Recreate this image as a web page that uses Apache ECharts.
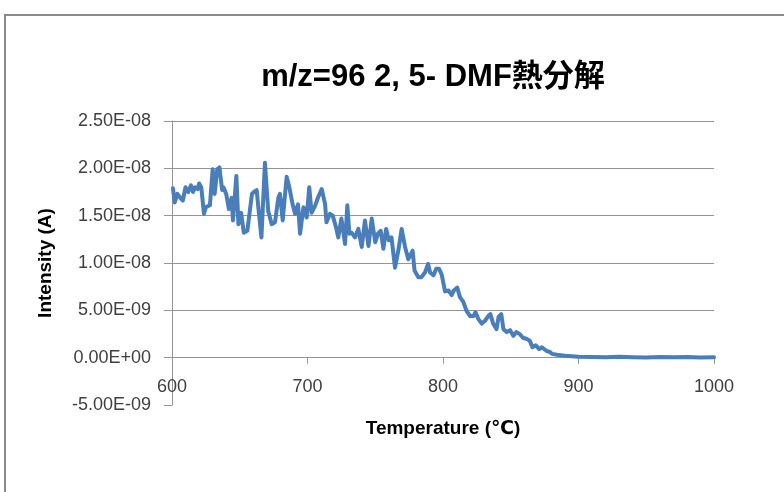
<!DOCTYPE html>
<html>
<head>
<meta charset="utf-8">
<script src="https://cdn.jsdelivr.net/npm/echarts@6/dist/echarts.min.js"></script>
<style>
  html, body { margin: 0; padding: 0; background: #fff; }
  #chart { width: 784px; height: 492px; }
</style>
</head>
<body>
<div id="chart"></div>
<script>
// Thermal decomposition of 2,5-DMF, ion current at m/z = 96
const titleText = 'm/z=96 2, 5- DMF熱分解';
const xAxisName = 'Temperature (℃)';
const yAxisName = 'Intensity (A)';

// Temperature (°C)
const temperature = [
  600.7, 602, 604, 606, 608, 610, 612, 614, 615.5, 617, 619, 620, 621.6, 623.6, 625, 628,
  630, 631.5, 633.4, 635, 637, 638, 640, 642, 644, 645, 647.5, 649, 651, 653, 655.6,
  657, 659, 660.5, 662.5, 663.7, 666, 668.6, 671, 673.6, 676, 678.5, 679.7, 681.7, 684.6,
  686.6, 689, 690.8, 693, 694.5, 697, 699.4, 701.3, 703, 705.5, 708, 710.5, 713, 714,
  716.6, 718.6, 721, 722.7, 725, 727.7, 729.4, 730.9, 732.5, 735, 737.5, 740, 742.4, 745,
  747.4, 750, 752, 754, 756, 758, 760, 762, 764.6, 767, 769.5, 772, 774.4, 777.6, 779,
  781.8, 784, 786.7, 789, 790.5, 793, 795, 797, 799, 801.5, 804, 806.4, 808, 810.5, 812.5,
  815, 817.5, 820, 822.5, 824, 826, 828.6, 831, 833.4, 835, 837, 839.5, 841, 843, 844.6,
  847, 849.5, 852, 854, 856.6, 859, 861.5, 864, 866, 868.5, 871, 873, 876.5, 879, 880.5,
  884, 890, 895, 900, 910, 920, 930, 940, 950, 960, 970, 980, 990, 1000
];

// Ion current, in units of 1E-09 A
const intensity = [
  17.9, 16.4, 17.3, 16.9, 16.6, 18.0, 17.5, 18.2, 17.5, 18.0, 17.8, 18.4, 18.0, 15.2, 15.9, 16.1,
  19.9, 17.3, 19.9, 20.1, 17.7, 18.0, 17.3, 15.7, 16.9, 14.5, 19.2, 14.1, 15.3, 13.2, 13.4,
  13.5, 17.3, 17.5, 17.7, 15.9, 12.7, 20.6, 15.5, 14.1, 14.3, 16.9, 17.3, 14.5, 19.1,
  18.0, 16.2, 15.2, 16.2, 13.1, 15.9, 14.8, 18.0, 15.3, 16.0, 17.0, 17.8, 16.2, 14.3,
  15.2, 15.0, 13.8, 12.7, 14.7, 12.0, 16.1, 13.1, 13.2, 12.7, 13.6, 11.7, 14.5, 11.8,
  14.7, 12.2, 13.1, 13.4, 11.5, 13.6, 12.4, 12.7, 9.5, 11.3, 13.6, 11.7, 10.4, 11.3, 9.2,
  8.5, 8.5, 9.0, 9.9, 9.0, 8.7, 9.4, 9.4, 8.8, 7.0, 7.1, 6.6, 7.1, 7.4, 6.4,
  5.9, 4.9, 4.4, 4.4, 4.8, 4.1, 3.6, 3.9, 4.4, 4.6, 3.6, 3.0, 4.3, 4.6, 3.0,
  2.7, 2.9, 2.3, 2.7, 2.5, 2.1, 2.0, 1.8, 1.1, 1.3, 0.9, 1.1, 0.7, 0.6, 0.4,
  0.3, 0.2, 0.15, 0.1, 0.08, 0.05, 0.1, 0.05, 0.02, 0.08, 0.04, 0.06, 0.03, 0.05
];

// Axis ranges and tick spacing (y in units of 1E-09 A)
const xMin = 600, xMax = 1000, xStep = 100;
const yMin = -5, yMax = 25, yStep = 5;
const yUnit = 1e-9;

function sciLabel(v) {
  if (Math.abs(v) < 1e-12) return '0.00E+00';
  const s = (v * yUnit).toExponential(2);
  const parts = s.split('e');
  const sign = parts[1][0];
  const digits = parts[1].slice(1).padStart(2, '0');
  return parts[0] + 'E' + sign + digits;
}

const points = temperature.map((t, i) => [t, intensity[i]]);

const chart = echarts.init(document.getElementById('chart'), null, { renderer: 'canvas' });

const labelFont = "'Liberation Sans', 'DejaVu Sans', sans-serif";
const gridColor = '#959595';

// No gridline along the bottom edge (the lowest tick only gets its tick mark)
const tickCount = Math.round((yMax - yMin) / yStep) + 1;
const splitColors = Array.from({ length: tickCount }, (_, i) => (i === 0 ? 'rgba(0,0,0,0)' : gridColor));

chart.setOption({
  animation: false,
  backgroundColor: '#ffffff',
  title: {
    text: titleText,
    left: 428,
    textAlign: 'center',
    top: 57,
    textStyle: {
      fontFamily: "'Liberation Sans', 'Noto Sans CJK JP', sans-serif",
      fontWeight: 'bold',
      fontSize: 31,
      color: '#000'
    }
  },
  graphic: [{
    type: 'rect',
    shape: { x: 5, y: 15, width: 820, height: 520 },
    style: { fill: 'none', stroke: '#8a8a8a', lineWidth: 2 },
    silent: true
  }],
  grid: { left: 172, right: 70, top: 121, bottom: 87, containLabel: false },
  xAxis: {
    type: 'value',
    min: xMin,
    max: xMax,
    interval: xStep,
    name: xAxisName,
    nameLocation: 'middle',
    nameGap: 14,
    nameTextStyle: { fontFamily: labelFont, fontWeight: 'bold', fontSize: 19, color: '#000' },
    axisLine: { onZero: true, lineStyle: { color: gridColor, width: 1 } },
    axisTick: { show: true, length: 6, inside: false, lineStyle: { color: gridColor } },
    axisLabel: {
      fontFamily: labelFont, fontSize: 18, color: '#404040', margin: -27,
      formatter: v => String(v)
    },
    splitLine: { show: false }
  },
  yAxis: {
    type: 'value',
    min: yMin,
    max: yMax,
    interval: yStep,
    name: yAxisName,
    nameLocation: 'middle',
    nameRotate: 90,
    nameGap: 117,
    nameTextStyle: { fontFamily: labelFont, fontWeight: 'bold', fontSize: 19, color: '#000' },
    axisLine: { show: true, onZero: false, lineStyle: { color: gridColor, width: 1 } },
    axisTick: { show: true, length: 8, inside: false, lineStyle: { color: gridColor } },
    axisLabel: { fontFamily: labelFont, fontSize: 18, color: '#404040', margin: 21, formatter: sciLabel },
    splitLine: { show: true, lineStyle: { color: splitColors, width: 1 } }
  },
  series: [{
    type: 'line',
    data: points,
    showSymbol: false,
    symbol: 'none',
    smooth: false,
    lineStyle: { color: '#4a7ebb', width: 4, join: 'round', cap: 'round' },
    itemStyle: { color: '#4a7ebb' }
  }]
});
</script>
</body>
</html>
